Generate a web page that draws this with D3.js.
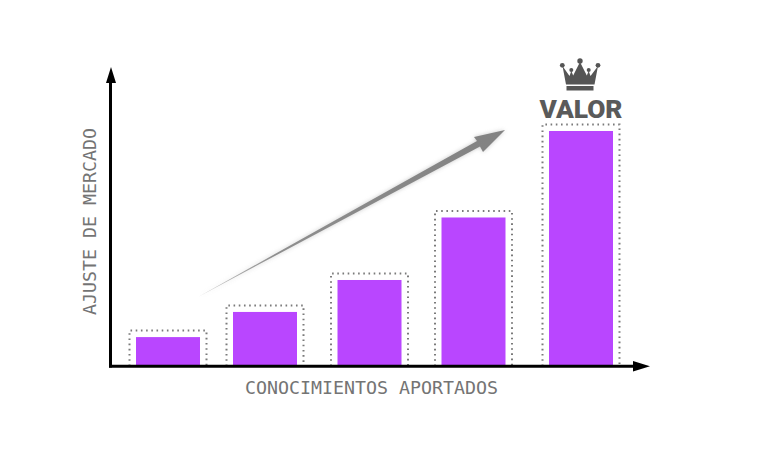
<!DOCTYPE html>
<html><head><meta charset="utf-8">
<script src="https://cdn.jsdelivr.net/npm/d3@7"></script>
<style>html,body{margin:0;padding:0;background:#fff}svg{display:block}</style>
</head><body><svg id="c" width="768" height="451"></svg>
<script>
const categories = ["Nivel 1","Nivel 2","Nivel 3","Nivel 4","Nivel 5"];
const values = [12.3, 23, 36.6, 63.2, 100];
const xTitle = "CONOCIMIENTOS APORTADOS";
const yTitle = "AJUSTE DE MERCADO";
const topLabel = "VALOR";

const svg = d3.select("#c");
const defs = svg.append("defs");
defs.append("filter").attr("id","soft").attr("x","-10%").attr("y","-20%").attr("width","120%").attr("height","140%")
  .append("feGaussianBlur").attr("stdDeviation",2.2);
const grad = defs.append("linearGradient").attr("id","fade").attr("gradientUnits","userSpaceOnUse")
  .attr("x1",198).attr("y1",297).attr("x2",505).attr("y2",130);
grad.append("stop").attr("offset",0).attr("stop-color","#c4c4c4");
grad.append("stop").attr("offset",0.25).attr("stop-color","#8e8e8e");
grad.append("stop").attr("offset",1).attr("stop-color","#828282");

const baseY = 366;
const x = d3.scaleOrdinal().domain(categories).range([168,265,369.5,473.5,581]);
const y = d3.scaleLinear().domain([0,100]).range([baseY,131]);
const barW = 64, boxHalf = 38.5, boxPad = 6.5;

// dotted frames
svg.append("g").selectAll("path").data(categories).join("path")
  .attr("d",(c,i)=>d3.line()([[x(c)-boxHalf,baseY],[x(c)-boxHalf,y(values[i])-boxPad],[x(c)+boxHalf,y(values[i])-boxPad],[x(c)+boxHalf,baseY]]))
  .attr("fill","none").attr("stroke","#7a7a7a").attr("stroke-width",2).attr("stroke-dasharray","1.6 3.6");

// bars
svg.append("g").selectAll("rect").data(categories).join("rect")
  .attr("x",c=>x(c)-barW/2).attr("width",barW)
  .attr("y",(c,i)=>y(values[i])).attr("height",(c,i)=>baseY-y(values[i]))
  .attr("fill","#b946ff");

// trend arrow
const arrowPts = [[198,297],[477,141],[474,137],[505,130],[483,152],[480,146.5]];
const line = d3.line();
svg.append("path").attr("d",line(arrowPts)+"Z").attr("fill","#bbb").attr("opacity",0.8)
  .attr("filter","url(#soft)");
svg.append("path").attr("d",line(arrowPts)+"Z").attr("fill","url(#fade)");

// axes
const axis = svg.append("g");
axis.append("path").attr("d",line([[110.5,367.5],[110.5,78]])).attr("stroke","#000").attr("stroke-width",3).attr("fill","none");
axis.append("path").attr("d",line([[111,67],[116,83],[106,83]])+"Z").attr("fill","#000");
axis.append("path").attr("d",line([[109,366.3],[640,366.3]])).attr("stroke","#000").attr("stroke-width",3).attr("fill","none");
axis.append("path").attr("d",line([[650,366.3],[633,361],[633,371.5]])+"Z").attr("fill","#000");

// titles
const mono = "'DejaVu Sans Mono', monospace";
svg.append("text").attr("x",371.5).attr("y",393.5).attr("text-anchor","middle")
  .attr("font-family",mono).attr("font-size",18.3).attr("fill","#747474").text(xTitle);
svg.append("text").attr("transform","translate(96,221.5) rotate(-90)").attr("text-anchor","middle")
  .attr("font-family",mono).attr("font-size",18.3).attr("fill","#747474").text(yTitle);
svg.append("text").attr("x",581).attr("y",117.5).attr("text-anchor","middle")
  .attr("font-family","Roboto, sans-serif").attr("font-weight",900).attr("font-size",26.3)
  .attr("fill","#5a5a5a").text(topLabel);

// crown
const crown = svg.append("g").attr("fill","#555");
crown.append("path").attr("d",line([[562.5,66],[566,84.5],[594.5,84.5],[598,66],[590.5,76],[588.7,71],[586.8,75.5],[580,62],[573.2,75.5],[571.3,71],[569.5,76]])+"Z");
crown.append("rect").attr("x",566.5).attr("y",86).attr("width",27).attr("height",4.5);
crown.selectAll("circle").data([[562.3,65.3,2.4],[571.3,70,2],[580,61,2.7],[588.7,70,2],[598,65.3,2.4]]).join("circle")
  .attr("cx",d=>d[0]).attr("cy",d=>d[1]).attr("r",d=>d[2]);
</script></body></html>
